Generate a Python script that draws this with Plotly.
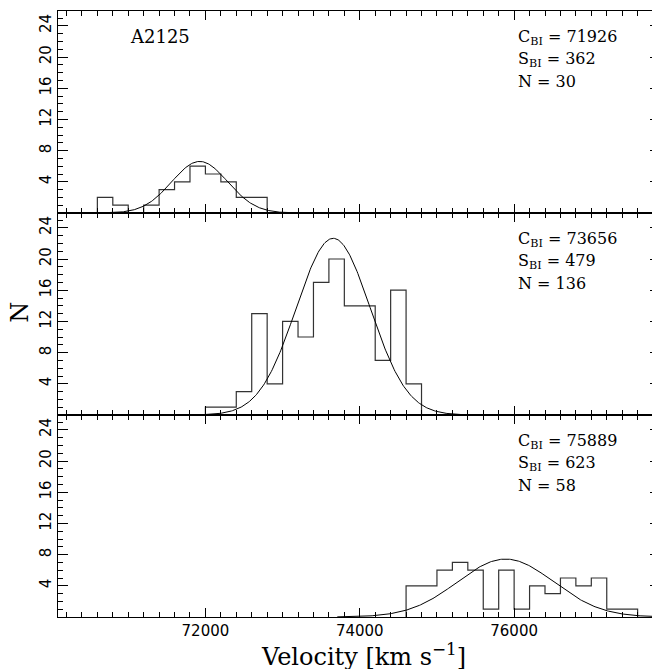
import numpy as np
import plotly.graph_objects as go
from plotly.subplots import make_subplots

# histogram bins: 200 km/s wide, counts
bin_width = 200
top_lo = 70600
top_counts = [2, 1, 0, 1, 3, 4, 6, 5, 4, 2, 2]
mid_lo = 72000
mid_counts = [1, 1, 3, 13, 4, 12, 10, 17, 20, 14, 14, 7, 16, 4]
bot_lo = 74600
bot_counts = [4, 4, 6, 7, 6, 1, 6, 1, 4, 3, 5, 4, 5, 1, 1]

# biweight location / scale and N shown in each panel
c_bi = [71926, 73656, 75889]
s_bi = [362, 479, 623]
n_gal = [30, 136, 58]

panels = [(top_lo, top_counts), (mid_lo, mid_counts), (bot_lo, bot_counts)]

fig = make_subplots(rows=3, cols=1, shared_xaxes=True, vertical_spacing=0)

for i, (lo, counts) in enumerate(panels):
    edges = lo + bin_width * np.arange(len(counts) + 1)
    xs = [edges[0]] + list(edges)
    ys = [0] + list(counts) + [0]
    fig.add_trace(go.Scatter(x=xs, y=ys, mode='lines', line_shape='hv',
                             line=dict(color='#333333', width=1.2), showlegend=False),
                  row=i + 1, col=1)
    # gaussian with the panel's C_BI, S_BI, N scaled to the bin width
    gx = np.linspace(c_bi[i] - 3.5 * s_bi[i], c_bi[i] + 3.5 * s_bi[i], 300)
    gy = n_gal[i] * bin_width / (np.sqrt(2 * np.pi) * s_bi[i]) * np.exp(-0.5 * ((gx - c_bi[i]) / s_bi[i]) ** 2)
    fig.add_trace(go.Scatter(x=gx, y=gy, mode='lines', line=dict(color='black', width=1),
                             showlegend=False), row=i + 1, col=1)

    sfx = '' if i == 0 else str(i + 1)
    lines = ['C<sub>BI</sub> = %d' % c_bi[i], 'S<sub>BI</sub> = %d' % s_bi[i], 'N = %d' % n_gal[i]]
    for k, txt in enumerate(lines):
        fig.add_annotation(text=txt, xref='x%s domain' % sfx, yref='y%s domain' % sfx,
                           x=0.761, y=0.871 - k * 0.109, xanchor='left', yanchor='middle',
                           showarrow=False, font=dict(family='DejaVu Serif', size=16, color='black'))

fig.add_annotation(text='A2125', xref='x domain', yref='y domain', x=0.116, y=0.876,
                   xanchor='left', yanchor='middle', showarrow=False,
                   font=dict(family='DejaVu Serif', size=18, color='black'))

# axis titles as paper annotations so the margins stay fixed
fig.add_annotation(text='Velocity [km s<sup>\u22121</sup>]', xref='paper', yref='paper',
                   x=0.508, y=-0.063, xanchor='center', yanchor='middle', showarrow=False,
                   font=dict(family='DejaVu Serif', size=24, color='black'))
fig.add_annotation(text='N', xref='paper', yref='paper', x=-0.063, y=0.502, textangle=-90,
                   xanchor='center', yanchor='middle', showarrow=False,
                   font=dict(family='DejaVu Serif', size=24, color='black'))

fig.update_xaxes(range=[70090, 77890], showline=True, linecolor='black', linewidth=1.3,
                 mirror='ticks', ticks='inside', ticklen=9, tickwidth=1, tickcolor='black',
                 tick0=70000, dtick=2000, tickformat='d', showgrid=False, zeroline=False,
                 automargin=False,
                 minor=dict(ticks='inside', ticklen=5, dtick=200, tickcolor='black', showgrid=False),
                 tickfont=dict(family='DejaVu Sans', size=15, color='black'))
fig.update_yaxes(range=[0, 25.9], showline=True, linecolor='black', linewidth=1.3,
                 mirror='ticks', ticks='inside', ticklen=10, tickwidth=1, tickcolor='black',
                 tickvals=[4, 8, 12, 16, 20, 24], tickangle=-90, showgrid=False, zeroline=False,
                 automargin=False,
                 minor=dict(ticks='inside', ticklen=5, dtick=1, tickcolor='black', showgrid=False),
                 tickfont=dict(family='DejaVu Sans', size=15, color='black'))

# the page body has an 8px margin, so the figure is shrunk by 8px on each axis
fig.update_layout(width=652, height=661, margin=dict(l=50, r=0, t=3, b=52),
                  plot_bgcolor='white', paper_bgcolor='white')

fig.write_html("out.html")
